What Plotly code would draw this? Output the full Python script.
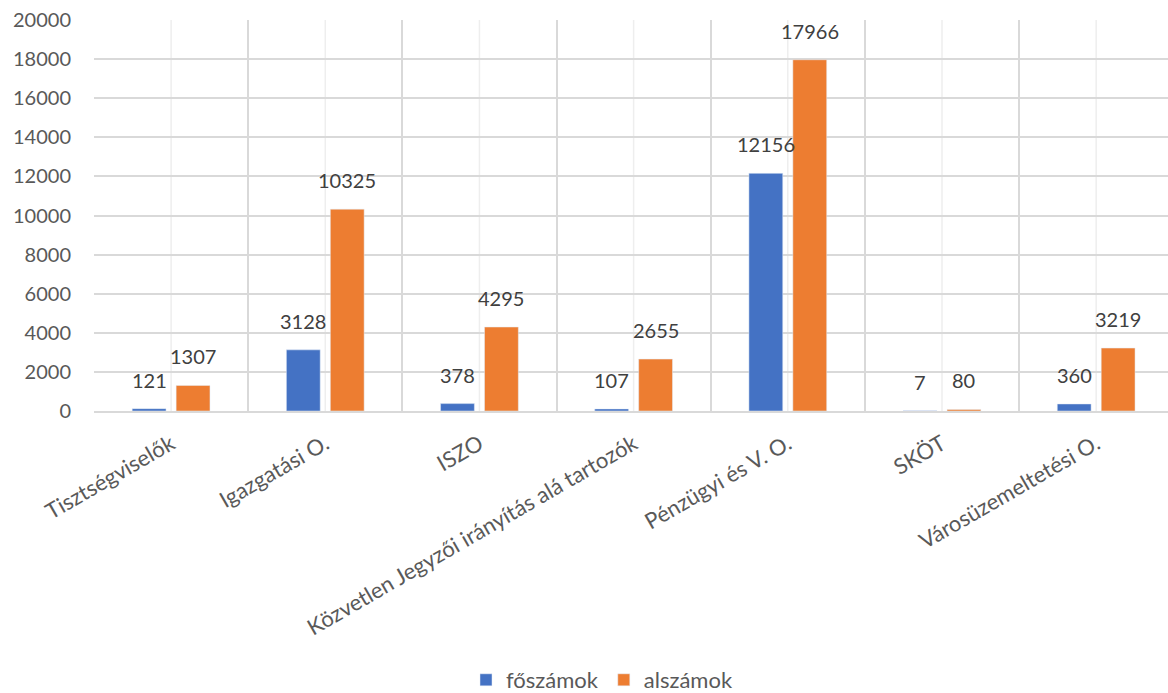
import plotly.graph_objects as go

# Category labels and counts per department
categories = [
    "Tisztségviselők",
    "Igazgatási O.",
    "ISZO",
    "Közvetlen Jegyzői irányítás alá tartozók",
    "Pénzügyi és V. O.",
    "SKÖT",
    "Városüzemeltetési O.",
]
foszamok = [121, 3128, 378, 107, 12156, 7, 360]
alszamok = [1307, 10325, 4295, 2655, 17966, 80, 3219]
y_ticks = [0, 2000, 4000, 6000, 8000, 10000, 12000, 14000, 16000, 18000, 20000]

FONT = "Lato, 'Open Sans', 'DejaVu Sans', sans-serif"
BLUE = "#4472C4"
ORANGE = "#ED7D31"
GRID = "#D9D9D9"
LIGHT_GRID = "#EEEEEE"

W, H = 1168, 693
M_L, M_R, M_T, M_B = 94, 0, 20, 282
X_RANGE = [-0.5, 6.466]
BARGAP, BARGROUPGAP = 0.43, 0.23

fig = go.Figure()
fig.add_trace(go.Bar(name="főszámok", x=categories, y=foszamok, marker_color=BLUE))
fig.add_trace(go.Bar(name="alszámok", x=categories, y=alszamok, marker_color=ORANGE))

# pixel offset of each bar's centre from its category centre
cat_px = (W - M_L - M_R) / (X_RANGE[1] - X_RANGE[0])
half_slot = (1 - BARGAP) * cat_px / 4

# value labels above the bars
for series, sign in ((foszamok, -1), (alszamok, 1)):
    for c, v in zip(categories, series):
        fig.add_annotation(
            x=c, y=v, xref="x", yref="y", text=str(v), showarrow=False,
            xanchor="center", yanchor="bottom", xshift=sign * half_slot, yshift=15,
            font=dict(size=20, color="#404040", family=FONT),
        )

# light vertical guide through each category centre
for c in categories:
    fig.add_shape(type="line", xref="x", yref="paper", x0=c, x1=c, y0=0, y1=1,
                  line=dict(color=LIGHT_GRID, width=1.5), layer="below")

fig.update_layout(
    width=W, height=H,
    margin=dict(l=M_L, r=M_R, t=M_T, b=M_B, autoexpand=False),
    paper_bgcolor="white", plot_bgcolor="white",
    barmode="group", bargap=BARGAP, bargroupgap=BARGROUPGAP,
    font=dict(family=FONT, color="#595959", size=20),
    showlegend=True,
    legend=dict(orientation="h", x=0.473, xanchor="center", y=-0.688, yanchor="middle",
                font=dict(size=22, color="#595959"), itemwidth=30,
                traceorder="normal"),
)
fig.update_xaxes(
    type="category", range=X_RANGE, tickson="boundaries", automargin=False,
    showgrid=True, gridcolor=GRID, gridwidth=1.5,
    showline=True, linecolor=GRID, linewidth=1.5,
    ticks="", tickangle=-30, ticklabelstandoff=10,
    tickfont=dict(size=22, color="#595959"),
)
fig.update_yaxes(
    range=[0, 20000], tickvals=y_ticks, ticktext=[str(v) for v in y_ticks],
    automargin=False,
    showgrid=True, gridcolor=GRID, gridwidth=1.5,
    zeroline=False, showline=False, ticks="", ticklabelstandoff=22,
    tickfont=dict(size=20, color="#595959"),
)

fig.write_html("out.html")
